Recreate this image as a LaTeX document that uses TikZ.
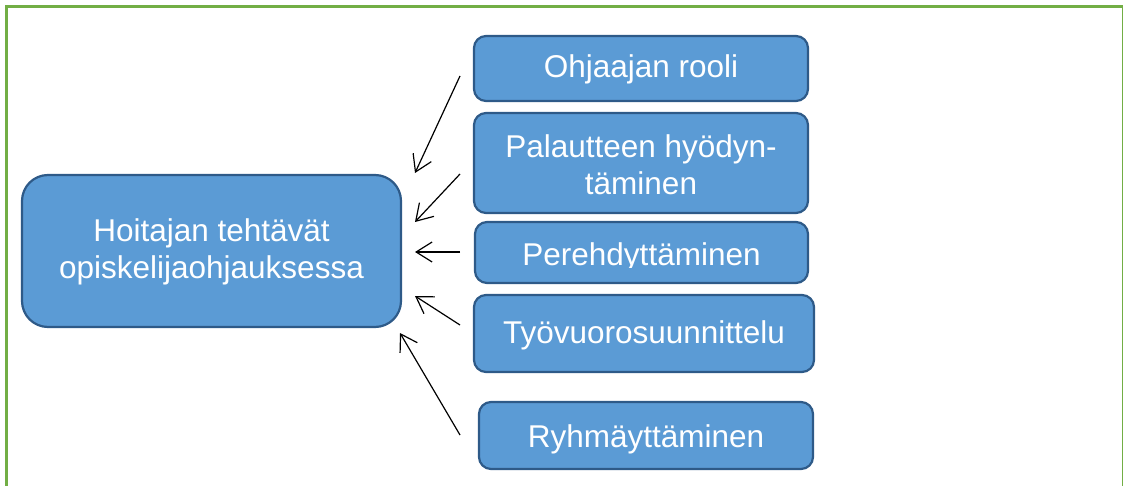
\documentclass[tikz,border=0pt]{standalone}
\usepackage{fontspec}
\setmainfont{Liberation Sans}
\usetikzlibrary{arrows.meta}
\definecolor{boxfill}{HTML}{5B9BD5}
\definecolor{boxline}{HTML}{2E5A88}
\definecolor{framegreen}{HTML}{72AE45}
\tikzset{
  box/.style={draw=boxline, line width=2.2pt, fill=boxfill, rounded corners=12pt},
  bigbox/.style={box, rounded corners=26pt},
  txt/.style={text=white, font=\fontsize{31.5}{37}\selectfont, align=center, inner sep=0pt},
  arr/.style={line width=1.2pt, -{Straight Barb[length=16pt,width=20pt,line width=1.2pt]}}
}
\begin{document}
\begin{tikzpicture}[x=1pt,y=-1pt]
\useasboundingbox (0,0) rectangle (1123,486);
\begin{scope}
\clip (0,0) rectangle (1123,486);
\draw[framegreen, line width=3pt] (6.5,6.5) rectangle (1123.5,520);
\end{scope}
% main box
\draw[bigbox] (22,175) rectangle (401,327);
\node[txt] (main) at (211.5,252) {Hoitajan tehtävät\\opiskelijaohjauksessa};
% right boxes
\draw[box] (474,36) rectangle (808,101);
\node[txt] (b1) at (641,69) {Ohjaajan rooli};
\draw[box] (474,113) rectangle (808,213);
\node[txt] (b2) at (641,165) {Palautteen hyödyn-\\täminen};
\draw[box] (475,222) rectangle (808,283);
\begin{scope}
\clip (470,220) rectangle (812,267.5);
\node[txt, anchor=base] (b3) at (641.5,265) {Perehdyttäminen};
\end{scope}
\draw[box] (474,295) rectangle (814,372);
\node[txt, anchor=base] (b4) at (644,343) {Työvuorosuunnittelu};
\draw[box] (479,402) rectangle (813,469);
\node[txt, anchor=base] (b5) at (646,447) {Ryhmäyttäminen};
% arrow endpoints
\coordinate (s1) at (460,76);  \coordinate (t1) at (415,173);
\coordinate (s2) at (460,174); \coordinate (t2) at (415,222);
\coordinate (s3) at (460,252); \coordinate (t3) at (415,252);
\coordinate (s4) at (460,325); \coordinate (t4) at (415,296);
\coordinate (s5) at (460,435); \coordinate (t5) at (400,333);
\foreach \i in {1,...,5} \draw[arr] (s\i) -- (t\i);
\end{tikzpicture}
\end{document}
